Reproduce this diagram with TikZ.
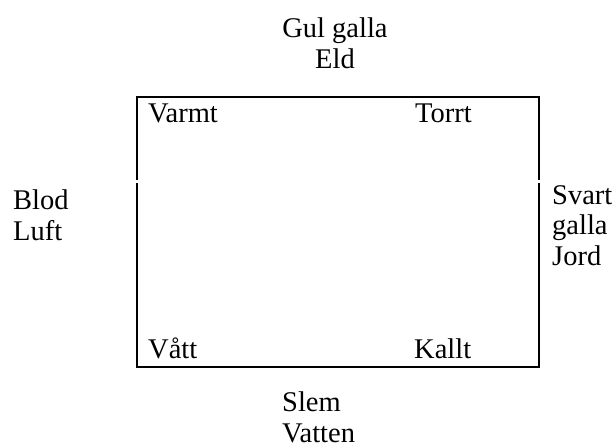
\documentclass[tikz,border=0pt]{standalone}
\usepackage{fontspec}
\setmainfont{Liberation Serif}
\usepackage{tikz}
\usetikzlibrary{positioning}

\begin{document}
\begin{tikzpicture}[x=1pt,y=-1pt,
    humor/.style={inner sep=0pt,anchor=base west,align=left,
      font=\fontsize{28.5}{30.5}\selectfont},
    box/.style={line width=2.2pt}]
  \useasboundingbox (0,0) rectangle (615,445);

  % corners of the square
  \coordinate (nw) at (137,97);
  \coordinate (ne) at (539,97);
  \coordinate (se) at (539,367);
  \coordinate (sw) at (137,367);
  \coordinate (wgap1) at (137,180);
  \coordinate (wgap2) at (137,183);
  \coordinate (egap1) at (539,180);
  \coordinate (egap2) at (539,183);

  \draw[box] (wgap1) -- (nw) -- (ne) -- (egap1);
  \draw[box] (egap2) -- (se) -- (sw) -- (wgap2);

  % the qualities in the corners
  \draw (148,122) node[humor] (varmt) {Varmt};
  \draw (415,122) node[humor] (torrt) {Torrt};
  \draw (148,358) node[humor] (vatt) {Vått};
  \draw (414,358) node[humor] (kallt) {Kallt};

  % humours and elements on the sides (base = last line)
  \draw (335,68) node[humor,anchor=base,align=center] (eld) {Gul galla\\Eld};
  \draw (13,240) node[humor] (luft) {Blod\\Luft};
  \draw (552,265) node[humor] (jord) {Svart\\galla\\Jord};
  \draw (282,442) node[humor,text depth=0pt] (vatten) {Slem\\Vatten};

\end{tikzpicture}
\end{document}
